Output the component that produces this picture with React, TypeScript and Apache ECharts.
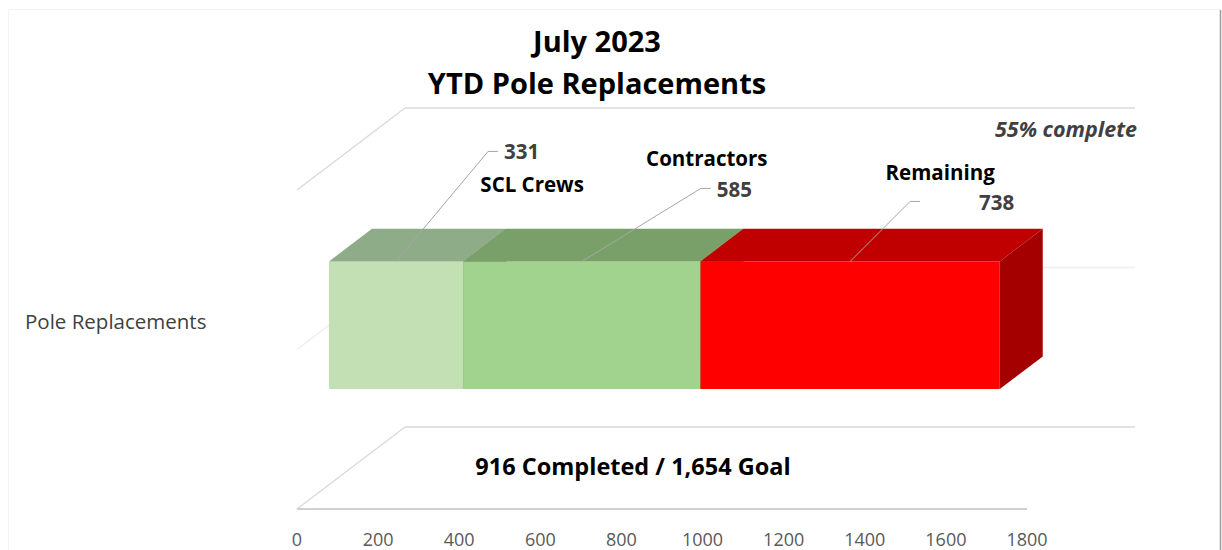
import React, { useEffect, useRef } from "react";
import * as echarts from "echarts";

// ---- data ----
const categories = ["Pole Replacements"];
const segmentNames = ["SCL Crews", "Contractors", "Remaining"];
const segmentValues = [331, 585, 738];
const xTicks = { min: 0, max: 1800, interval: 200 };
const titleLines = ["July 2023", "YTD Pole Replacements"];

// ---- styles / layout ----
const FONT = "'Open Sans', 'Noto Sans', sans-serif";
const frontColors = ["#C2E0B4", "#A2D38E", "#FF0000"];
const topColors = ["#8FAC88", "#78A068", "#C00000"];
const sideColors = ["#6E9462", "#5E8A4E", "#A50000"];
const DEPTH = [108, -82];
const BAR_FRONT = 0.296;
const BAR_BACK = 0.694;
const BAR_FRAC = 0.4;
// leader-line offsets from top-center of segment front, and label offsets from leader start
const leaderOffsets = [
  [92, -110],
  [119, -73],
  [60, -60],
];
const valueLabelOffsets = [
  [108, -110],
  [135, -72],
  [129, -59],
];
const nameLabelOffsets = [
  [136, -77],
  [125, -103],
  [90, -89],
];

const completed = segmentValues[0] + segmentValues[1];
const goal = segmentValues[0] + segmentValues[1] + segmentValues[2];
const pct = Math.round((completed / goal) * 100);

export default function App() {
  const ref = useRef<HTMLDivElement>(null);
  useEffect(() => {
    if (!ref.current) return;
    const chart = echarts.init(ref.current, undefined, { renderer: "svg" });

    const starts: number[] = [];
    let acc = 0;
    segmentValues.forEach((v) => {
      starts.push(acc);
      acc += v;
    });
    const barData = segmentValues.map((v, i) => [starts[i], starts[i] + v, v, i]);

    const wallLine = (x1: number, y1: number, x2: number, y2: number, color: string, w = 1.3) => ({
      type: "line",
      shape: { x1, y1, x2, y2 },
      style: { stroke: color, lineWidth: w },
      silent: true,
    });

    const option: any = {
      animation: false,
      backgroundColor: "#ffffff",
      title: {
        text: titleLines.join("\n"),
        left: 597,
        top: 19,
        padding: 0,
        textAlign: "center",
        textStyle: {
          fontFamily: FONT,
          fontSize: 29,
          fontWeight: "bold",
          color: "#000000",
          lineHeight: 42,
        },
      },
      grid: { left: 297, right: 195, top: 190, bottom: 41 },
      xAxis: {
        type: "value",
        min: xTicks.min,
        max: xTicks.max,
        interval: xTicks.interval,
        axisLine: { show: false },
        axisTick: { show: false },
        splitLine: { show: false },
        axisLabel: {
          color: "#595959",
          fontSize: 18,
          fontFamily: FONT,
          margin: 21,
          formatter: (v: number) => String(v),
        },
      },
      yAxis: {
        type: "category",
        data: categories,
        axisLine: { show: false },
        axisTick: { show: false },
        splitLine: { show: false },
        axisLabel: { show: false },
      },
      graphic: [
        {
          type: "rect",
          shape: { x: 8.5, y: 9.5, width: 1212, height: 545 },
          style: { fill: "none", stroke: "#f2f2f2", lineWidth: 1 },
          silent: true,
        },
        {
          type: "line",
          shape: { x1: 1220.5, y1: 10, x2: 1220.5, y2: 550 },
          style: { stroke: "#9a9a9a", lineWidth: 1.5 },
          silent: true,
        },
        {
          type: "text",
          x: 25,
          y: 321,
          style: {
            text: categories[0],
            fontFamily: FONT,
            fontSize: 20.5,
            fill: "#404040",
            align: "left",
            verticalAlign: "middle",
          },
        },
        {
          type: "text",
          x: 1137,
          y: 128,
          style: {
            text: `${pct}% complete`,
            fontFamily: FONT,
            fontSize: 21.5,
            fontWeight: "bold",
            fontStyle: "italic",
            fill: "#404040",
            align: "right",
            verticalAlign: "middle",
          },
        },
        {
          type: "text",
          x: 633,
          y: 466,
          style: {
            text: `${completed} Completed / ${goal.toLocaleString("en-US")} Goal`,
            fontFamily: FONT,
            fontSize: 23.5,
            fontWeight: "bold",
            fill: "#000000",
            align: "center",
            verticalAlign: "middle",
          },
        },
      ],
      series: [
        {
          type: "custom",
          name: "walls",
          silent: true,
          z: 1,
          data: [[xTicks.min, xTicks.max]],
          renderItem: (params: any, api: any) => {
            const p0 = api.coord([api.value(0), 0]);
            const p1 = api.coord([api.value(1), 0]);
            const band = api.size([0, 1])[1];
            const x0 = p0[0];
            const x1 = p1[0];
            const mid = p0[1];
            const top = mid - band / 2;
            const bot = mid + band / 2;
            const [dx, dy] = DEPTH;
            return {
              type: "group",
              children: [
                wallLine(x0, top, x0 + dx, top + dy, "#d9d9d9"),
                wallLine(x0, mid, x0 + dx, mid + dy, "#eeeeee"),
                wallLine(x0, bot, x0 + dx, bot + dy, "#d9d9d9"),
                wallLine(x0 + dx, top + dy, x1 + dx, top + dy, "#d9d9d9"),
                wallLine(x0 + dx, mid + dy, x1 + dx, mid + dy, "#eeeeee"),
                wallLine(x0 + dx, bot + dy, x1 + dx, bot + dy, "#d9d9d9", 1.6),
                wallLine(x0, bot, x1, bot, "#d0d0d0", 1.8),
              ],
            };
          },
        },
        {
          type: "custom",
          name: "bars",
          z: 2,
          data: barData,
          renderItem: (params: any, api: any) => {
            const idx = api.value(3);
            const ps = api.coord([api.value(0), 0]);
            const pe = api.coord([api.value(1), 0]);
            const band = api.size([0, 1])[1];
            const h = band * BAR_FRAC;
            const fx = DEPTH[0] * BAR_FRONT;
            const fy = DEPTH[1] * BAR_FRONT;
            const bx = DEPTH[0] * BAR_BACK - fx;
            const by = DEPTH[1] * BAR_BACK - fy;
            const xs = ps[0] + fx;
            const xe = pe[0] + fx;
            const ft = ps[1] + fy - h / 2;
            const fb = ft + h;
            const cx = (xs + xe) / 2;
            const lo = leaderOffsets[idx];
            const vo = valueLabelOffsets[idx];
            const no = nameLabelOffsets[idx];
            return {
              type: "group",
              children: [
                {
                  type: "rect",
                  shape: { x: xs, y: ft, width: xe - xs, height: h },
                  style: { fill: frontColors[idx] },
                },
                {
                  type: "polygon",
                  shape: {
                    points: [
                      [xs, ft],
                      [xe, ft],
                      [xe + bx, ft + by],
                      [xs + bx, ft + by],
                    ],
                  },
                  style: { fill: topColors[idx] },
                },
                {
                  type: "polygon",
                  shape: {
                    points: [
                      [xe, ft],
                      [xe + bx, ft + by],
                      [xe + bx, fb + by],
                      [xe, fb],
                    ],
                  },
                  style: { fill: sideColors[idx] },
                },
                {
                  type: "polyline",
                  shape: {
                    points: [
                      [cx, ft],
                      [cx + lo[0], ft + lo[1]],
                      [cx + lo[0] + 10, ft + lo[1]],
                    ],
                  },
                  style: { stroke: "#a6a6a6", lineWidth: 1, fill: "none" },
                  z2: 10,
                },
                {
                  type: "text",
                  x: cx + vo[0],
                  y: ft + vo[1],
                  style: {
                    text: String(api.value(2)),
                    fontFamily: FONT,
                    fontSize: 20.5,
                    fontWeight: "bold",
                    fill: "#404040",
                    align: "left",
                    verticalAlign: "middle",
                  },
                  z2: 11,
                },
                {
                  type: "text",
                  x: cx + no[0],
                  y: ft + no[1],
                  style: {
                    text: segmentNames[idx],
                    fontFamily: FONT,
                    fontSize: 20.5,
                    fontWeight: "bold",
                    fill: "#000000",
                    align: "center",
                    verticalAlign: "middle",
                  },
                  z2: 11,
                },
              ],
            };
          },
        },
      ],
    };
    chart.setOption(option);
    return () => chart.dispose();
  }, []);

  return (
    <div
      ref={ref}
      style={{ position: "absolute", left: 0, top: 0, width: 1222, height: 550 }}
    />
  );
}
